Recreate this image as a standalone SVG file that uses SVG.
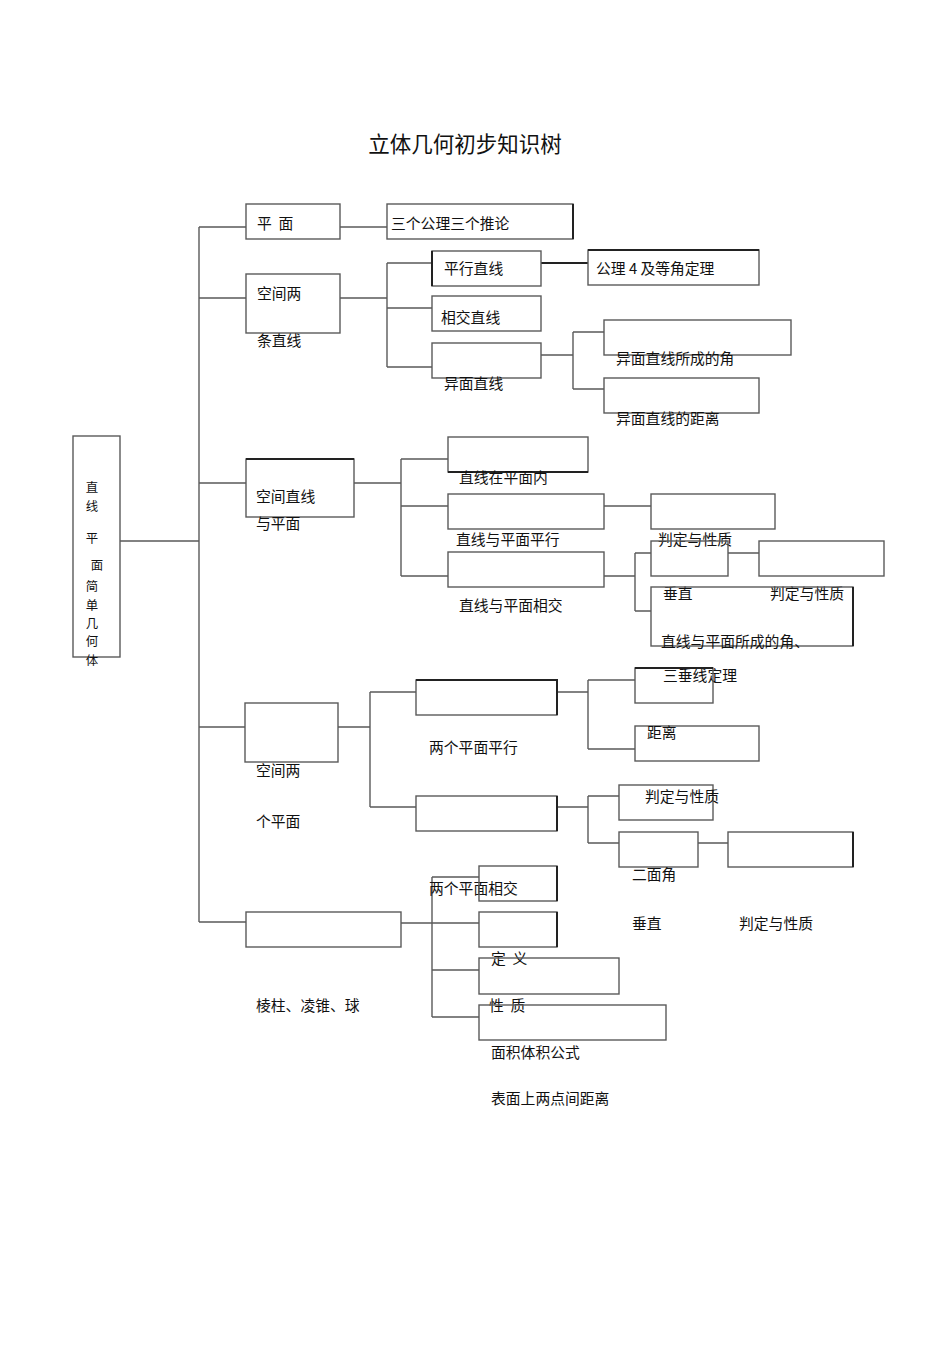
<svg xmlns="http://www.w3.org/2000/svg" width="950" height="1345" viewBox="0 0 950 1345">
<style>
.b{fill:none;stroke:#5a5a5a;stroke-width:1.4}
.k{fill:none;stroke:#222;stroke-width:2}
.c{fill:none;stroke:#5a5a5a;stroke-width:1.4}
text{font-family:"Noto Sans CJK SC","Liberation Sans",sans-serif;font-size:14.8px;fill:#111;dominant-baseline:central}
.t{font-size:21.5px}
.r{font-size:12.4px}
</style>
<rect width="950" height="1345" fill="#fff"/>
<text class="t" x="465" y="142" text-anchor="middle">立体几何初步知识树</text>
<g id="connectors">
<path class="c" d="M120,541H199M199,227V922M199,227H246M199,298H246M199,483H246M199,727H245M199,922H246"/>
<path class="c" d="M340,227H387"/>
<path class="c" d="M340,298H387M387,263V367M387,263H432M387,308H432M387,367H432"/>
<path class="k" d="M541,263H588"/>
<path class="c" d="M541,355H573M573,332V389M573,332H604M573,389H604"/>
<path class="c" d="M354,483H401M401,459V576M401,459H448M401,506H448M401,576H448"/>
<path class="c" d="M604,506H651"/>
<path class="c" d="M604,576H635M635,553V611M635,553H651M635,611H651M728,553H759"/>
<path class="c" d="M338,727H370M370,692V807M370,692H416M370,807H416"/>
<path class="c" d="M557,692H588M588,680V749M588,680H635M588,749H635"/>
<path class="c" d="M557,807H588M588,796V843M588,796H619M588,843H619M698,843H728"/>
<path class="c" d="M401,923H479M432,877V1017M432,877H479M432,970H479M432,1017H479"/>
</g>
<g id="root"><rect class="b" x="73" y="436" width="47" height="221"/>
<text class="r" x="92" y="487" text-anchor="middle">直</text><text class="r" x="92" y="506" text-anchor="middle">线</text>
<text class="r" x="92" y="538" text-anchor="middle">平</text><text class="r" x="97" y="565" text-anchor="middle">面</text>
<text class="r" x="92" y="586" text-anchor="middle">简</text><text class="r" x="92" y="605" text-anchor="middle">单</text>
<text class="r" x="92" y="623" text-anchor="middle">几</text><text class="r" x="92" y="641" text-anchor="middle">何</text>
<text class="r" x="92" y="660" text-anchor="middle">体</text></g>
<g id="n-plane"><rect class="b" x="246" y="204" width="94" height="35"/><text x="257" y="222" xml:space="preserve">平  面</text></g>
<g id="n-axioms"><rect class="b" x="387" y="204" width="186" height="35"/><path class="k" d="M573,204V239"/><text x="391" y="222">三个公理三个推论</text></g>
<g id="n-twolines"><rect class="b" x="246" y="274" width="94" height="59"/><text x="257" y="292">空间两</text><text x="257" y="339">条直线</text></g>
<g id="n-parallel"><rect class="b" x="432" y="251" width="109" height="35"/><path class="k" d="M432,251V286"/><text x="444" y="267">平行直线</text></g>
<g id="n-axiom4"><rect class="b" x="588" y="250" width="171" height="35"/><path class="k" d="M588,250H759"/><text x="596" y="267">公理 4 及等角定理</text></g>
<g id="n-intersect"><rect class="b" x="432" y="296" width="109" height="35"/><text x="441" y="316">相交直线</text></g>
<g id="n-skew"><rect class="b" x="432" y="343" width="109" height="35"/><text x="444" y="382">异面直线</text></g>
<g id="n-skewangle"><rect class="b" x="604" y="320" width="187" height="35"/><text x="616" y="357">异面直线所成的角</text></g>
<g id="n-skewdist"><rect class="b" x="604" y="378" width="155" height="35"/><text x="616" y="417">异面直线的距离</text></g>
<g id="n-lineplane"><rect class="b" x="246" y="459" width="108" height="58"/><path class="k" d="M246,459H354"/><text x="256" y="495">空间直线</text><text x="256" y="522">与平面</text></g>
<g id="n-inplane"><rect class="b" x="448" y="437" width="140" height="35"/><path class="k" d="M448,472H588"/><text x="459" y="476">直线在平面内</text></g>
<g id="n-lpparallel"><rect class="b" x="448" y="494" width="156" height="35"/><text x="456" y="538">直线与平面平行</text></g>
<g id="n-lpp-judge"><rect class="b" x="651" y="494" width="124" height="35"/><text x="658" y="538">判定与性质</text></g>
<g id="n-lpintersect"><rect class="b" x="448" y="552" width="156" height="35"/><text x="459" y="604">直线与平面相交</text></g>
<g id="n-perp"><rect class="b" x="651" y="541" width="77" height="35"/><text x="663" y="592">垂直</text></g>
<g id="n-perp-judge"><rect class="b" x="759" y="541" width="125" height="35"/><text x="770" y="592">判定与性质</text></g>
<g id="n-lpangle"><rect class="b" x="651" y="587" width="202" height="59"/><path class="k" d="M853,587V646"/><text x="661" y="640">直线与平面所成的角、</text><text x="663" y="674">三垂线定理</text></g>
<g id="n-twoplanes"><rect class="b" x="245" y="703" width="93" height="59"/><text x="256" y="769">空间两</text><text x="256" y="820">个平面</text></g>
<g id="n-ppparallel"><rect class="b" x="416" y="680" width="141" height="35"/><path class="k" d="M416,680H557V715"/><text x="429" y="746">两个平面平行</text></g>
<g id="n-pp-judge1"><rect class="b" x="635" y="668" width="78" height="35"/><path class="k" d="M635,668H713"/></g>
<g id="n-ppdist"><rect class="b" x="635" y="726" width="124" height="35"/><text x="647" y="731">距离</text></g>
<g id="n-ppintersect"><rect class="b" x="416" y="796" width="141" height="35"/><path class="k" d="M557,796V831"/><text x="429" y="887">两个平面相交</text></g>
<g id="n-ppi-judge"><rect class="b" x="619" y="785" width="94" height="35"/><text x="645" y="795">判定与性质</text></g>
<g id="n-dihedral"><rect class="b" x="619" y="832" width="79" height="35"/><text x="632" y="873">二面角</text><text x="632" y="922">垂直</text></g>
<g id="n-dih-judge"><rect class="b" x="728" y="832" width="125" height="35"/><path class="k" d="M853,832V867"/><text x="739" y="922">判定与性质</text></g>
<g id="n-solids"><rect class="b" x="246" y="912" width="155" height="35"/><text x="256" y="1004">棱柱、凌锥、球</text></g>
<g id="n-def"><rect class="b" x="479" y="866" width="78" height="35"/><path class="k" d="M557,866V901"/></g>
<g id="n-prop"><rect class="b" x="479" y="912" width="78" height="35"/><path class="k" d="M557,912V947"/><text x="491" y="957" xml:space="preserve">定  义</text></g>
<g id="n-area"><rect class="b" x="479" y="958" width="140" height="36"/><text x="489" y="1004" xml:space="preserve">性  质</text></g>
<g id="n-surface"><rect class="b" x="479" y="1005" width="187" height="35"/><text x="491" y="1051">面积体积公式</text><text x="491" y="1097">表面上两点间距离</text></g>
</svg>
